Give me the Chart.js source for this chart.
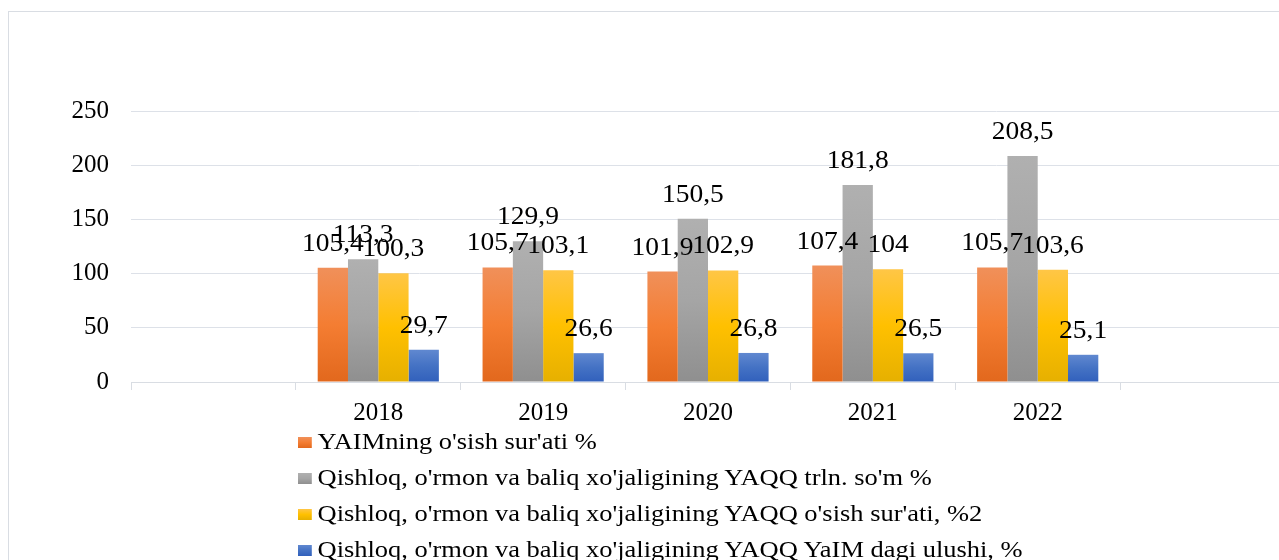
<!DOCTYPE html>
<html>
<head>
<meta charset="utf-8">
<script src="https://cdn.jsdelivr.net/npm/chart.js@4"></script>
<style>
    html, body { margin: 0; padding: 0; background: #fff; overflow: hidden; }
    #wrap { position: relative; width: 1279px; height: 560px; overflow: hidden; }
    #frame { position: absolute; left: 8px; top: 11px; width: 1300px; height: 600px; border: 1px solid #d9dde3; box-sizing: border-box; }
    #chart { position: absolute; left: 0; top: 0; }
    #legend { position: absolute; left: 298px; top: 424px; font-family: "Liberation Serif", "Times New Roman", serif; font-size: 23px; color: #000; transform: scaleX(1.15); transform-origin: 0 0; }
    #legend div { height: 36px; line-height: 36px; white-space: nowrap; }
    #legend span.box { display: inline-block; width: 12px; height: 11px; margin-right: 5px; vertical-align: 1px; }
</style>
</head>
<body>
<div id="wrap">
    <div id="frame"></div>
    <canvas id="chart" width="1300" height="560"></canvas>
    <div id="legend"></div>
</div>
<script>
const categories = ["", "2018", "2019", "2020", "2021", "2022", ""];
const seriesNames = [
    "YAIMning o'sish sur'ati %",
    "Qishloq, o'rmon va baliq xo'jaligining YAQQ trln. so'm %",
    "Qishloq, o'rmon va baliq xo'jaligining YAQQ o'sish sur'ati, %2",
    "Qishloq, o'rmon va baliq xo'jaligining YAQQ YaIM dagi ulushi, %"
];
const gdpGrowth = [null, 105.4, 105.7, 101.9, 107.4, 105.7, null];
const agriValue = [null, 113.3, 129.9, 150.5, 181.8, 208.5, null];
const agriGrowth = [null, 100.3, 103.1, 102.9, 104, 103.6, null];
const agriShare = [null, 29.7, 26.6, 26.8, 26.5, 25.1, null];
const yTicks = [0, 50, 100, 150, 200, 250];

// gradient stops per series: top, middle, bottom
const palette = [
    ["#f0905a", "#f47d32", "#e2681d"],
    ["#b0b0b0", "#a5a5a5", "#8f8f8f"],
    ["#ffc646", "#ffc000", "#e6b000"],
    ["#6088d0", "#4472c4", "#3160bc"]
];

const FONT = "'Liberation Serif', 'Times New Roman', serif";

function barFill(idx) {
    return function (context) {
        const chart = context.chart;
        const raw = context.raw;
        const stops = palette[idx];
        if (!chart.chartArea || raw == null || !chart.scales.y) return stops[1];
        const y = chart.scales.y;
        const top = y.getPixelForValue(raw);
        const bottom = y.getPixelForValue(0);
        const g = chart.ctx.createLinearGradient(0, top, 0, bottom);
        g.addColorStop(0, stops[0]);
        g.addColorStop(0.5, stops[1]);
        g.addColorStop(1, stops[2]);
        return g;
    };
}

const valueLabels = {
    id: 'valueLabels',
    afterDatasetsDraw(chart) {
        const ctx = chart.ctx;
        chart.data.datasets.forEach((ds, i) => {
            const meta = chart.getDatasetMeta(i);
            meta.data.forEach((bar, j) => {
                const v = ds.data[j];
                if (v == null) return;
                ctx.save();
                ctx.font = '25px ' + FONT;
                ctx.fillStyle = '#000';
                ctx.textAlign = 'center';
                ctx.textBaseline = 'alphabetic';
                ctx.translate(bar.x, bar.y - 17);
                ctx.scale(1.1, 1);
                ctx.fillText(String(v).replace('.', ','), 0, 0);
                ctx.restore();
            });
        });
    }
};

const seriesData = [gdpGrowth, agriValue, agriGrowth, agriShare];

const chart = new Chart(document.getElementById('chart').getContext('2d'), {
    type: 'bar',
    data: {
        labels: categories,
        datasets: seriesData.map((d, i) => ({
            label: seriesNames[i],
            data: d,
            backgroundColor: barFill(i),
            borderWidth: 0,
            categoryPercentage: 0.735,
            barPercentage: 1.0
        }))
    },
    options: {
        responsive: false,
        animation: false,
        layout: { padding: { top: 111, right: 15, bottom: 0, left: 0 } },
        plugins: {
            legend: { display: false },
            tooltip: { enabled: false }
        },
        scales: {
            x: {
                afterFit(scale) { scale.height = 178; },
                grid: {
                    offset: true,
                    drawOnChartArea: false,
                    drawTicks: true,
                    tickLength: 8,
                    color: '#d9dde3'
                },
                border: { color: '#d9dde3' },
                ticks: {
                    padding: 8,
                    color: '#000',
                    font: { family: FONT, size: 25 }
                }
            },
            y: {
                min: 0,
                max: 250,
                afterFit(scale) { scale.width = 131; },
                afterBuildTicks(scale) { scale.ticks = yTicks.map(v => ({ value: v })); },
                grid: { color: '#dde1e8', drawTicks: false },
                border: { display: false },
                ticks: {
                    padding: 22,
                    color: '#000',
                    font: { family: FONT, size: 25 }
                }
            }
        }
    },
    plugins: [valueLabels]
});

// legend below the axis, one entry per row
const legend = document.getElementById('legend');
seriesNames.forEach((name, i) => {
    const row = document.createElement('div');
    const box = document.createElement('span');
    box.className = 'box';
    box.style.background = 'linear-gradient(' + palette[i].join(',') + ')';
    row.appendChild(box);
    row.appendChild(document.createTextNode(name));
    legend.appendChild(row);
});
</script>
</body>
</html>
